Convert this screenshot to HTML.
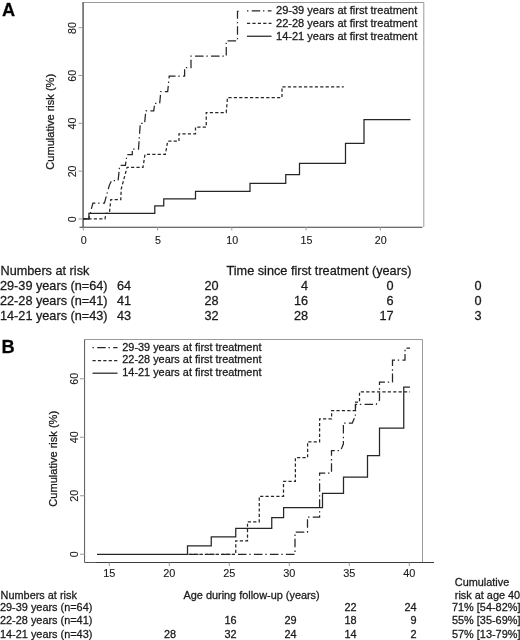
<!DOCTYPE html>
<html lang="en"><head><meta charset="utf-8"><title>Cumulative risk by age at first treatment</title>
<style>html,body{margin:0;padding:0;background:#fff}svg{display:block}text{font-family:'Liberation Sans', Arial, sans-serif;fill:#1a1a1a;stroke:#1a1a1a;stroke-width:0.28px}.t{font-size:12.7px}.s{font-size:10.9px}.l{font-size:11.05px}.k{font-size:10.7px}.k,.s2{stroke-width:0.12px}.p{font-size:18.2px;font-weight:bold;fill:#000}.c{fill:none;stroke:#262626;stroke-width:1.25}.da{stroke-dasharray:3.2 2.2}.dd{stroke-dasharray:8.5 2.8 1.4 3.3}.ax{stroke:#3c3c3c;stroke-width:1.1;fill:none}.ay{stroke:#707070;stroke-width:1.7;fill:none}.fr{stroke:#9a9a9a;stroke-width:1;fill:none}.tk{stroke:#999;stroke-width:1;fill:none}</style></head><body>
<svg width="520" height="640" viewBox="0 0 520 640">
<rect width="520" height="640" fill="#fff"/>
<text class="p" x="2" y="15.9">A</text>
<path class="fr" d="M83,2.5 H423.8 V227"/>
<path class="ay" d="M83.1,2 V228"/>
<path class="ax" d="M79.5,227.2 H422.5"/>
<path class="tk" d="M78.5,218.90 H83"/>
<text class="k" text-anchor="middle" transform="translate(76.1,219.20) rotate(-90)">0</text>
<path class="tk" d="M78.5,171.10 H83"/>
<text class="k" text-anchor="middle" transform="translate(76.1,171.40) rotate(-90)">20</text>
<path class="tk" d="M78.5,123.30 H83"/>
<text class="k" text-anchor="middle" transform="translate(76.1,123.60) rotate(-90)">40</text>
<path class="tk" d="M78.5,75.50 H83"/>
<text class="k" text-anchor="middle" transform="translate(76.1,75.80) rotate(-90)">60</text>
<path class="tk" d="M78.5,27.70 H83"/>
<text class="k" text-anchor="middle" transform="translate(76.1,28.00) rotate(-90)">80</text>
<path class="tk" d="M83.30,227 V230.5"/>
<text class="k" text-anchor="middle" x="83.80" y="243.5">0</text>
<path class="tk" d="M157.55,227 V230.5"/>
<text class="k" text-anchor="middle" x="158.05" y="243.5">5</text>
<path class="tk" d="M231.80,227 V230.5"/>
<text class="k" text-anchor="middle" x="232.30" y="243.5">10</text>
<path class="tk" d="M306.05,227 V230.5"/>
<text class="k" text-anchor="middle" x="306.55" y="243.5">15</text>
<path class="tk" d="M380.30,227 V230.5"/>
<text class="k" text-anchor="middle" x="380.80" y="243.5">20</text>
<text class="l" text-anchor="middle" transform="translate(53.7,121.8) rotate(-90)">Cumulative risk (%)</text>
<path class="c dd" d="M83,218.8 H88.8 L92.9,203.1 H104.4 L109.4,185.1 L111.5,180.7 H118.1 L119.7,165.4 H125.4 L127,154.6 H132.3 V149.2 H138.5 L140.3,123.4 H144.6 L145.8,110.8 H153.8 L154.6,103.4 H159.7 L160.8,91.5 H167.7 L169.2,76.2 H184.6 V67.7 H191 V56.2 H226.25 V40.75 H237.5 V11.25 H240.5"/>
<path class="c da" d="M83,218.8 H105 L106,213.3 H109.4 L110.8,199.6 H120.8 L121.2,189 L127.1,167.3 H143 L145,154.3 H165.4 L167.7,141.2 H179 V133.75 H195.5 V127 H206.25 V112.5 H226.25 L227.5,97.5 H282 V86.75 H343.75"/>
<path class="c" d="M83,218.8 H88.9 V213.3 H154.8 V205.8 H163.75 V198.75 H195.5 V191.25 H250 V183.25 H285.75 V174.5 H299.5 V163.25 H345.5 V143.25 H364 V119.5 H410.5"/>
<path class="c dd" stroke-dashoffset="11.3" d="M247,10.75 H271.5"/>
<text class="l" x="276" y="13.75">29-39 years at first treatment</text>
<path class="c da" d="M247,23.25 H271.5"/>
<text class="l" x="276" y="26.75">22-28 years at first treatment</text>
<path class="c" d="M247,36.25 H271.5"/>
<text class="l" x="276" y="39.90">14-21 years at first treatment</text>
<text class="t" x="0.5" y="274.6">Numbers at risk</text>
<text class="t" x="226.5" y="274.6">Time since first treatment (years)</text>
<text class="t" x="0" y="289.60">29-39 years (n=64)</text>
<text class="t" text-anchor="end" x="131.00" y="289.60">64</text>
<text class="t" text-anchor="end" x="218.50" y="289.60">20</text>
<text class="t" text-anchor="end" x="308.00" y="289.60">4</text>
<text class="t" text-anchor="end" x="393.50" y="289.60">0</text>
<text class="t" text-anchor="end" x="481.50" y="289.60">0</text>
<text class="t" x="0" y="304.60">22-28 years (n=41)</text>
<text class="t" text-anchor="end" x="131.00" y="304.60">41</text>
<text class="t" text-anchor="end" x="218.50" y="304.60">28</text>
<text class="t" text-anchor="end" x="308.00" y="304.60">16</text>
<text class="t" text-anchor="end" x="393.50" y="304.60">6</text>
<text class="t" text-anchor="end" x="481.50" y="304.60">0</text>
<text class="t" x="0" y="319.60">14-21 years (n=43)</text>
<text class="t" text-anchor="end" x="131.00" y="319.60">43</text>
<text class="t" text-anchor="end" x="218.50" y="319.60">32</text>
<text class="t" text-anchor="end" x="308.00" y="319.60">28</text>
<text class="t" text-anchor="end" x="393.50" y="319.60">17</text>
<text class="t" text-anchor="end" x="481.50" y="319.60">3</text>
<text class="p" x="1.5" y="352.8">B</text>
<path class="fr" d="M84.6,339.5 H422.5 V562.5"/>
<path d="M84.6,339.5 V562.5 H96" fill="none" stroke="#555" stroke-width="1"/>
<path class="ax" d="M96,562.5 H434"/>
<path class="tk" d="M80,554.25 H84.6"/>
<text class="k" text-anchor="middle" transform="translate(78.3,554.25) rotate(-90)">0</text>
<path class="tk" d="M80,495.75 H84.6"/>
<text class="k" text-anchor="middle" transform="translate(78.3,495.75) rotate(-90)">20</text>
<path class="tk" d="M80,437.25 H84.6"/>
<text class="k" text-anchor="middle" transform="translate(78.3,437.25) rotate(-90)">40</text>
<path class="tk" d="M80,378.75 H84.6"/>
<text class="k" text-anchor="middle" transform="translate(78.3,378.75) rotate(-90)">60</text>
<path class="tk" d="M109.25,562.5 V566"/>
<text class="s s2" text-anchor="middle" x="109.35" y="577.2">15</text>
<path class="tk" d="M169.25,562.5 V566"/>
<text class="s s2" text-anchor="middle" x="169.35" y="577.2">20</text>
<path class="tk" d="M229.25,562.5 V566"/>
<text class="s s2" text-anchor="middle" x="229.35" y="577.2">25</text>
<path class="tk" d="M289.25,562.5 V566"/>
<text class="s s2" text-anchor="middle" x="289.35" y="577.2">30</text>
<path class="tk" d="M349.25,562.5 V566"/>
<text class="s s2" text-anchor="middle" x="349.35" y="577.2">35</text>
<path class="tk" d="M409.25,562.5 V566"/>
<text class="s s2" text-anchor="middle" x="409.35" y="577.2">40</text>
<text class="l" text-anchor="middle" transform="translate(56.7,458.8) rotate(-90)">Cumulative risk (%)</text>
<path class="c dd" d="M190,554.25 H295 V532 H307.5 V517 H319.6 V473 H331.5 V450.5 H340.8 L343.4,443.8 V423 H352.3 L355.4,416 V404.25 H376.25 L379.5,400 V382 H392.5 V360 H405 V348 H410"/>
<path class="c da" d="M188.5,554.25 H235.75 V540.75 H247.5 V521.75 H259.25 V496.25 H283.5 V481.4 H295.4 V457.6 H307.6 V441.8 H319.6 V418.8 H331.6 V410.6 H355.6 V402 H359.5 V391.75 H410"/>
<path class="c" d="M97,554.25 H187.5 V545.75 H211.25 V536.75 H235.75 V528.25 H271.75 V517.5 H283.6 V507.5 H322.5 V493.3 H343.5 V477 H367.5 V455.5 H379.5 V428 H403.75 V387 H410"/>
<path class="c dd" stroke-dashoffset="11.3" d="M92.5,347.50 H117.5"/>
<text class="s" x="122.3" y="350.50">29-39 years at first treatment</text>
<path class="c da" d="M92.5,360.50 H117.5"/>
<text class="s" x="122.3" y="363.30">22-28 years at first treatment</text>
<path class="c" d="M92.5,373.20 H117.5"/>
<text class="s" x="122.3" y="376.30">14-21 years at first treatment</text>
<text class="s" x="0.6" y="598.7">Numbers at risk</text>
<text class="s" x="183.5" y="598.7">Age during follow-up (years)</text>
<text class="s" x="454.8" y="586.4">Cumulative</text>
<text class="s" x="454.8" y="598.7">risk at age 40</text>
<text class="s" x="0" y="611.30">29-39 years (n=64)</text>
<text class="s" text-anchor="end" x="356.50" y="611.30">22</text>
<text class="s" text-anchor="end" x="416.50" y="611.30">24</text>
<text class="s" x="452" y="611.30">71% [54-82%]</text>
<text class="s" x="0" y="624.40">22-28 years (n=41)</text>
<text class="s" text-anchor="end" x="236.50" y="624.40">16</text>
<text class="s" text-anchor="end" x="296.50" y="624.40">29</text>
<text class="s" text-anchor="end" x="356.50" y="624.40">18</text>
<text class="s" text-anchor="end" x="416.50" y="624.40">9</text>
<text class="s" x="452" y="624.40">55% [35-69%]</text>
<text class="s" x="0" y="637.50">14-21 years (n=43)</text>
<text class="s" text-anchor="end" x="176.00" y="637.50">28</text>
<text class="s" text-anchor="end" x="236.50" y="637.50">32</text>
<text class="s" text-anchor="end" x="296.50" y="637.50">24</text>
<text class="s" text-anchor="end" x="356.50" y="637.50">14</text>
<text class="s" text-anchor="end" x="416.50" y="637.50">2</text>
<text class="s" x="452" y="637.50">57% [13-79%]</text>
</svg></body></html>
